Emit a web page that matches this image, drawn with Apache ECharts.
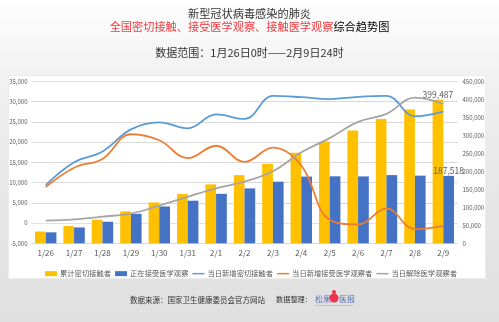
<!DOCTYPE html>
<html>
<head>
<meta charset="utf-8">
<script src="https://cdn.jsdelivr.net/npm/echarts@6/dist/echarts.min.js"></script>
<style>
html,body{margin:0;padding:0;width:499px;height:322px;overflow:hidden;background:linear-gradient(#ffffff 0px,#f2f2f2 70px,#e6e6e6 200px,#e0e0e0 322px);}
#panel{position:absolute;left:8px;top:75px;width:478px;height:204px;background:#fff;border:1px solid #ececec;box-sizing:border-box;}
#chart{position:absolute;left:0;top:0;width:499px;height:322px;}
</style>
</head>
<body>
<div id="panel"></div>
<div id="chart"></div>
<script>
// ---- data ----
var categories = ['1/26','1/27','1/28','1/29','1/30','1/31','2/1','2/2','2/3','2/4','2/5','2/6','2/7','2/8','2/9'];
var cumulativeContacts = [32799,47833,65537,88693,113579,136987,163844,189583,221015,252154,282813,314028,345498,371905,399487];
var underObservation = [30453,44132,59990,81947,102427,118478,137594,152700,171329,185555,186354,186045,189660,188183,187518];
var newContacts = [9368,15034,17704,23156,24886,23408,26857,25739,31432,31139,30659,31215,31470,26407,27582];
var newObservation = [8897,13679,15858,21957,20480,16051,19116,15106,18629,14226,799,-309,3615,-1477,-665];
var released = [583,914,1604,2364,4300,6500,8600,10250,12800,17500,21000,25000,27000,31000,29500];
var seriesNames = ['累计密切接触者','正在接受医学观察','当日新增密切接触者','当日新增接受医学观察者','当日解除医学观察者'];
var leftTicks = {min:-5000, max:35000, interval:5000};
var rightTicks = {min:0, max:450000, interval:50000};

var FONT = '"Noto Sans CJK SC","Noto Sans",sans-serif';
var lastIdx = categories.length - 1;
function withLastLabel(arr, dist){
  return arr.map(function(v,i){
    if(i===lastIdx){
      return {value:v, label:{show:true, position:'top', distance:dist, fontSize:8.5, color:'#595959', fontFamily:FONT,
        formatter:function(p){return p.value.toLocaleString('en-US');}}};
    }
    return v;
  });
}
var LINE_ICON = 'path://M0,0 L24,0 L24,3 L0,3 Z';
var legendData = seriesNames.map(function(n,i){
  return i < 2 ? {name:n, icon:'rect'} : {name:n, icon:LINE_ICON};
});

var chart = echarts.init(document.getElementById('chart'), null, {renderer:'canvas'});
var axisLabelColor = '#595959';
var option = {
  backgroundColor:'transparent',
  animation:false,
  textStyle:{fontFamily:FONT},
  graphic:[
    {type:'text', left:'center', top:8, style:{text:'新型冠状病毒感染的肺炎', fontSize:11.2, fontFamily:FONT, fill:'#333'}},
    {type:'text', left:'center', top:21, style:{text:'{r|全国密切接触、接受医学观察、接触医学观察}{k|综合趋势图}', fontFamily:FONT,
      rich:{r:{fontSize:11.2, fill:'#f23a3f', color:'#f23a3f', fontFamily:FONT}, k:{fontSize:11.2, color:'#333', fontFamily:FONT}}}},
    {type:'text', left:'center', top:47, style:{text:'数据范围：1月26日0时——2月9日24时', fontSize:11, fontFamily:FONT, fill:'#333'}},
    {type:'text', left:130, top:296, style:{text:'数据来源：国家卫生健康委员会官方网站', fontSize:7.5, fontFamily:FONT, fill:'#333'}},
    {type:'text', left:276, top:296, style:{text:'数据整理：', fontSize:7.2, fontFamily:FONT, fill:'#333'}},
    {type:'text', left:315, top:295, style:{text:'松果', fontSize:8, fontFamily:FONT, fill:'#5b6fb5'}},
    {type:'circle', shape:{cx:334, cy:298, r:4.5}, style:{fill:'#e8344e'}},
    {type:'circle', shape:{cx:334, cy:292, r:2}, style:{fill:'#e8344e'}},
    {type:'text', left:339, top:295, style:{text:'医报', fontSize:8, fontFamily:FONT, fill:'#5b6fb5'}},
    {type:'rect', shape:{x:315, y:305, width:38, height:1}, style:{fill:'#f0b0bc'}}
  ],
  grid:{left:31.5, right:41.5, top:81.5, bottom:78.7, containLabel:false},
  legend:{
    top:265, left:40, itemWidth:12, itemHeight:5, itemGap:4,
    textStyle:{fontSize:7.3, color:'#595959', fontFamily:FONT, padding:[0,0,0,-2]},
    data:legendData
  },
  xAxis:{
    type:'category', data:categories,
    axisTick:{show:false},
    axisLine:{lineStyle:{color:'#d9d9d9'}},
    axisLabel:{fontSize:8, color:axisLabelColor, margin:6, fontFamily:FONT}
  },
  yAxis:[
    {type:'value', min:leftTicks.min, max:leftTicks.max, interval:leftTicks.interval,
      axisLabel:{fontSize:6, color:axisLabelColor, margin:4, fontFamily:FONT},
      axisLine:{show:false}, axisTick:{show:false},
      splitLine:{lineStyle:{color:'#d9d9d9', width:1}}},
    {type:'value', min:rightTicks.min, max:rightTicks.max, interval:rightTicks.interval,
      axisLabel:{fontSize:6, color:axisLabelColor, margin:5, fontFamily:FONT,
        formatter:function(v){return v.toLocaleString('en-US');}},
      axisLine:{show:false}, axisTick:{show:false}, splitLine:{show:false}}
  ],
  series:[
    {name:seriesNames[0], type:'bar', yAxisIndex:1, data:withLastLabel(cumulativeContacts,1), barWidth:10.7, barGap:'0%',
      itemStyle:{color:'#FFC000'}},
    {name:seriesNames[1], type:'bar', yAxisIndex:1, data:withLastLabel(underObservation,1), barWidth:10.7, barGap:'0%',
      itemStyle:{color:'#4472C4'}},
    {name:seriesNames[2], type:'line', yAxisIndex:0, data:newContacts, smooth:0.4, symbol:'none',
      lineStyle:{color:'#5B9BD5', width:1.8}, itemStyle:{color:'#5B9BD5'}},
    {name:seriesNames[3], type:'line', yAxisIndex:0, data:newObservation, smooth:0.4, symbol:'none',
      lineStyle:{color:'#ED7D31', width:1.8}, itemStyle:{color:'#ED7D31'},
      markLine:{silent:true, symbol:'none', label:{show:false}, lineStyle:{color:'rgba(225,225,225,0.9)', type:'solid', width:1},
        data:[{yAxis:0}], z:1}},
    {name:seriesNames[4], type:'line', yAxisIndex:0, data:released, smooth:0.4, symbol:'none',
      lineStyle:{color:'#A5A5A5', width:1.8}, itemStyle:{color:'#A5A5A5'}}
  ]
};
chart.setOption(option);
</script>
</body>
</html>
